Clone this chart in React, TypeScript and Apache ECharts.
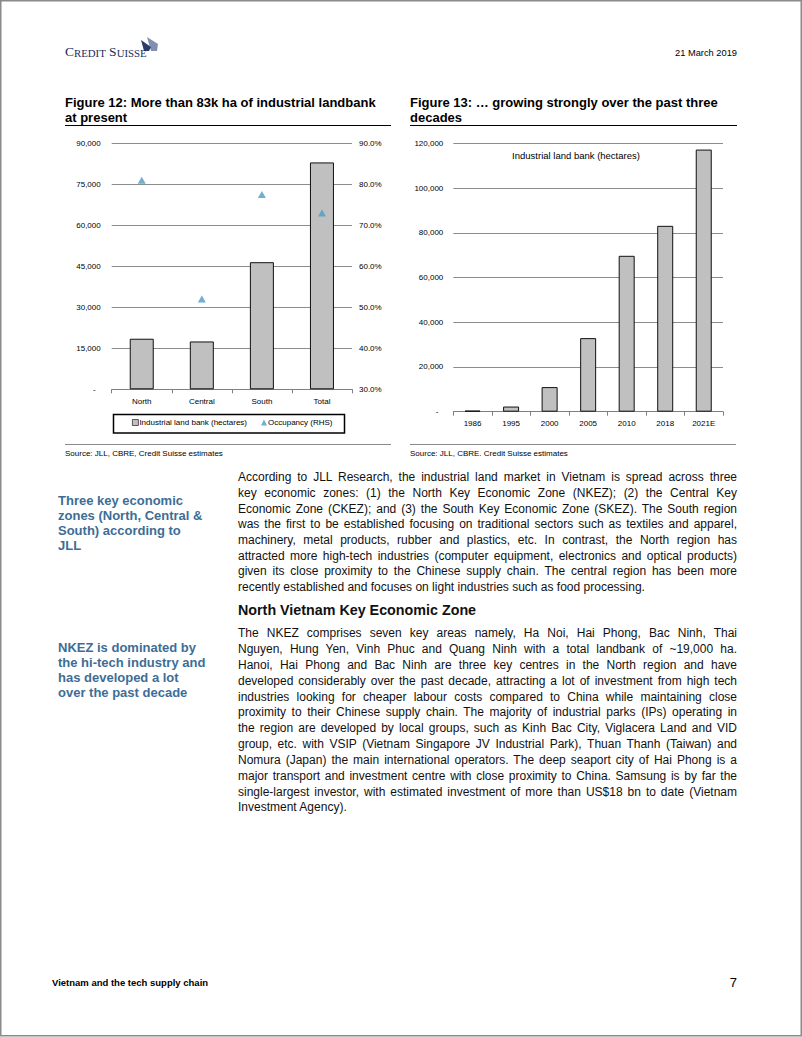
import React, { useEffect, useRef } from 'react';
import * as echarts from 'echarts';

// ---------- data ----------
const regions = ['North', 'Central', 'South', 'Total'];
const landBankByRegion = [18500, 17500, 46500, 83000];
const occupancyByRegion = [81, 52, 77.5, 73];

const years = ['1986', '1995', '2000', '2005', '2010', '2018', '2021E'];
const landBankHistory = [500, 2300, 11000, 32900, 69700, 83100, 117200];

const fig12Title = ['Figure 12: More than 83k ha of industrial landbank', 'at present'];
const fig13Title = ['Figure 13: \u2026 growing strongly over the past three', 'decades'];
const source12 = 'Source: JLL, CBRE, Credit Suisse estimates';
const source13 = 'Source: JLL, CBRE. Credit Suisse estimates';
const fig13Inner = 'Industrial land bank (hectares)';

const sidebar1 = ['Three key economic', 'zones (North, Central &', 'South) according to', 'JLL'];
const sidebar2 = ['NKEZ is dominated by', 'the hi-tech industry and', 'has developed a lot', 'over the past decade'];

const para1 = [
  'According to JLL Research, the industrial land market in Vietnam is spread across three',
  'key economic zones: (1) the North Key Economic Zone (NKEZ); (2) the Central Key',
  'Economic Zone (CKEZ); and (3) the South Key Economic Zone (SKEZ). The South region',
  'was the first to be established focusing on traditional sectors such as textiles and apparel,',
  'machinery, metal products, rubber and plastics, etc. In contrast, the North region has',
  'attracted more high-tech industries (computer equipment, electronics and optical products)',
  'given its close proximity to the Chinese supply chain. The central region has been more',
  'recently established and focuses on light industries such as food processing.',
];
const heading2 = 'North Vietnam Key Economic Zone';
const para2 = [
  'The NKEZ comprises seven key areas namely, Ha Noi, Hai Phong, Bac Ninh, Thai',
  'Nguyen, Hung Yen, Vinh Phuc and Quang Ninh with a total landbank of ~19,000 ha.',
  'Hanoi, Hai Phong and Bac Ninh are three key centres in the North region and have',
  'developed considerably over the past decade, attracting a lot of investment from high tech',
  'industries looking for cheaper labour costs compared to China while maintaining close',
  'proximity to their Chinese supply chain. The majority of industrial parks (IPs) operating in',
  'the region are developed by local groups, such as Kinh Bac City, Viglacera Land and VID',
  'group, etc. with VSIP (Vietnam Singapore JV Industrial Park), Thuan Thanh (Taiwan) and',
  'Nomura (Japan) the main international operators. The deep seaport city of Hai Phong is a',
  'major transport and investment centre with close proximity to China. Samsung is by far the',
  'single-largest investor, with estimated investment of more than US$18 bn to date (Vietnam',
  'Investment Agency).',
];

const FONT = "'Liberation Sans', Arial, Helvetica, sans-serif";
const SIDE_COLOR = '#3d6d96';

const numLabel = (v: number) => (v === 0 ? '{d|-}' : v.toLocaleString('en-US'));
const pctLabel = (v: number) => v.toFixed(1) + '%';

function txt(text: string, x: number, y: number, size: number, opts: any = {}) {
  return {
    type: 'text',
    x,
    y,
    silent: true,
    style: {
      text,
      fontSize: size,
      fontFamily: FONT,
      fontWeight: opts.bold ? 'bold' : 'normal',
      fill: opts.color || '#000',
      align: opts.align || 'left',
      verticalAlign: 'middle',
    },
  };
}
function hline(x1: number, x2: number, y: number, color: string, w: number) {
  return { type: 'line', silent: true, shape: { x1, y1: y, x2, y2: y }, style: { stroke: color, lineWidth: w } };
}

export default function App() {
  const ref = useRef<HTMLDivElement>(null);
  useEffect(() => {
    if (!ref.current) return;
    const chart = echarts.init(ref.current, undefined, { renderer: 'svg' });
    const axisLabelBase = { fontSize: 8, color: '#000', fontFamily: FONT };
    const barStyle = { color: '#c0c0c0', borderColor: '#111', borderWidth: 1 };
    const option: any = {
      animation: false,
      textStyle: { fontFamily: FONT },
      grid: [
        { left: 111.7, width: 240.3, top: 143.3, height: 246 },
        { left: 453.3, width: 269.7, top: 143.3, height: 268.4 },
      ],
      xAxis: [
        {
          type: 'category', gridIndex: 0, data: regions,
          axisLine: { lineStyle: { color: '#808080', width: 1 } },
          axisTick: { show: true, length: 4, lineStyle: { color: '#808080' } },
          axisLabel: { ...axisLabelBase, margin: 8 },
        },
        {
          type: 'category', gridIndex: 1, data: years,
          axisLine: { lineStyle: { color: '#808080', width: 1 } },
          axisTick: { show: true, length: 4, lineStyle: { color: '#808080' } },
          axisLabel: { ...axisLabelBase, margin: 8 },
        },
      ],
      yAxis: [
        {
          type: 'value', gridIndex: 0, min: 0, max: 90000, interval: 15000,
          axisLine: { show: false }, axisTick: { show: false },
          splitLine: { lineStyle: { color: '#8c8c8c', width: 1 } },
          axisLabel: { ...axisLabelBase, margin: 11, formatter: numLabel, rich: { d: { fontSize: 8, color: '#000', padding: [0, 5, 0, 0] } } },
        },
        {
          type: 'value', gridIndex: 0, position: 'right', min: 30, max: 90, interval: 10,
          axisLine: { show: false }, axisTick: { show: false }, splitLine: { show: false },
          axisLabel: { ...axisLabelBase, margin: 7, formatter: pctLabel },
        },
        {
          type: 'value', gridIndex: 1, min: 0, max: 120000, interval: 20000,
          axisLine: { show: false }, axisTick: { show: false },
          splitLine: { lineStyle: { color: '#8c8c8c', width: 1 } },
          axisLabel: { ...axisLabelBase, margin: 10, formatter: numLabel, rich: { d: { fontSize: 8, color: '#000', padding: [0, 5, 0, 0] } } },
        },
      ],
      legend: {
        left: 132, top: 418.5, padding: 0, itemGap: 14, itemWidth: 6, itemHeight: 6,
        textStyle: { fontSize: 8, color: '#000', fontFamily: FONT, padding: [0, 0, 0, -4] },
        data: [
          { name: 'Industrial land bank (hectares)', icon: 'rect', itemStyle: { color: '#c0c0c0', borderColor: '#333', borderWidth: 0.8 } },
          { name: 'Occupancy (RHS)', icon: 'triangle' },
        ],
        selectedMode: false,
      },
      series: [
        {
          name: 'Industrial land bank (hectares)', type: 'bar', xAxisIndex: 0, yAxisIndex: 0,
          data: landBankByRegion, barWidth: 24, itemStyle: barStyle,
        },
        {
          name: 'Occupancy (RHS)', type: 'scatter', xAxisIndex: 0, yAxisIndex: 1,
          data: occupancyByRegion, symbol: 'triangle', symbolSize: [8, 7],
          itemStyle: { color: '#4a9cc1' },
        },
        {
          name: 'Land bank history', type: 'bar', xAxisIndex: 1, yAxisIndex: 2,
          data: landBankHistory, barWidth: 16, itemStyle: barStyle,
        },
      ],
      graphic: [
        { type: 'rect', silent: true, shape: { x: 0.75, y: 0.75, width: 800.5, height: 1035 }, style: { fill: 'none', stroke: '#8a8a8a', lineWidth: 1.5 } },
        // logo sails
        { type: 'polygon', silent: true, shape: { points: [[147, 37], [158, 44], [157, 51], [151, 51]] }, style: { fill: '#8190b2' } },
        { type: 'polygon', silent: true, shape: { points: [[141, 40], [151, 47], [149, 51], [144, 51]] }, style: { fill: '#2b3c6b' } },
        {
          type: 'text', x: 65, y: 58, silent: true,
          style: {
            text: '{b|C}{s|REDIT} {b|S}{s|UISSE}',
            verticalAlign: 'bottom',
            rich: {
              b: { fontSize: 13.5, fontFamily: "'Liberation Serif', 'Times New Roman', serif", fill: '#1c2c5a', verticalAlign: 'bottom' },
              s: { fontSize: 10.8, fontFamily: "'Liberation Serif', 'Times New Roman', serif", fill: '#1c2c5a', verticalAlign: 'bottom' },
            },
          },
        },
        txt('21 March 2019', 737, 53, 9.3, { align: 'right' }),
        txt(fig12Title[0], 65, 102, 13, { bold: true }),
        txt(fig12Title[1], 65, 117.5, 13, { bold: true }),
        txt(fig13Title[0], 410, 102, 13, { bold: true }),
        txt(fig13Title[1], 410, 117.5, 13, { bold: true }),
        hline(65, 391, 125.5, '#000', 1),
        hline(410, 737, 125.5, '#000', 1),
        txt(fig13Inner, 576, 155, 9.5, { align: 'center' }),
        { type: 'rect', silent: true, shape: { x: 113.5, y: 414.5, width: 231, height: 18.5 }, style: { fill: 'none', stroke: '#000', lineWidth: 1.5 } },
        hline(65, 391, 444.5, '#8a8a8a', 1),
        hline(410, 736, 444.5, '#8a8a8a', 1),
        txt(source12, 65, 453.5, 8),
        txt(source13, 410, 453.5, 8),
        txt('Vietnam and the tech supply chain', 52, 982, 9.5, { bold: true }),
        txt('7', 737, 982, 13, { align: 'right' }),
      ],
    };
    chart.setOption(option);
    return () => chart.dispose();
  }, []);

  const lineStyle = (lh: number, justify: boolean): React.CSSProperties => ({
    height: lh,
    lineHeight: lh + 'px',
    whiteSpace: 'nowrap',
    textAlign: justify ? 'justify' : 'left',
    textAlignLast: justify ? 'justify' : 'left',
  } as any);

  const block = (lines: string[], left: number, top: number, width: number, lh: number, size: number, extra: React.CSSProperties, justify: boolean) => (
    <div style={{ position: 'absolute', left, top, width, fontFamily: FONT, fontSize: size, color: '#111', zIndex: 2, ...extra }}>
      {lines.map((l, i) => (
        <div key={i} style={lineStyle(lh, justify && i < lines.length - 1)}>{l}</div>
      ))}
    </div>
  );

  return (
    <div style={{ position: 'absolute', left: 0, top: 0, width: 802, height: 1037, background: '#fff', overflow: 'hidden' }}>
      <div ref={ref} style={{ position: 'absolute', left: 0, top: 0, width: 802, height: 1037 }} />
      {block(sidebar1, 58, 492.5, 160, 15, 13, { fontWeight: 'bold', color: SIDE_COLOR }, false)}
      {block(sidebar2, 58, 640.2, 160, 15, 13, { fontWeight: 'bold', color: SIDE_COLOR }, false)}
      {block(para1, 238, 470.2, 499, 15.7, 12, {}, true)}
      {block([heading2], 238, 601, 400, 18, 14.3, { fontWeight: 'bold' }, false)}
      {block(para2, 238, 626.4, 499, 15.82, 12, {}, true)}
    </div>
  );
}
